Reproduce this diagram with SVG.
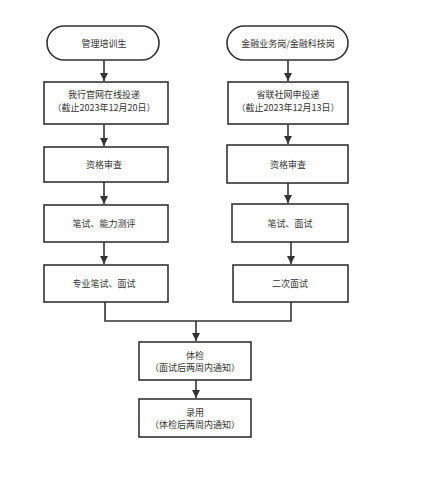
<svg xmlns="http://www.w3.org/2000/svg" width="422" height="486" viewBox="0 0 422 486">
<style>
.b{fill:#fff;stroke:#333;stroke-width:1.6}
.t{font-family:"Noto Sans CJK SC","Liberation Sans",sans-serif;font-size:9px;fill:#333;text-anchor:middle;dominant-baseline:central}
.c{fill:none;stroke:#333;stroke-width:1.6}
</style>
<defs>
<marker id="a" viewBox="0 0 10 10" refX="10" refY="5" markerWidth="8" markerHeight="8" markerUnits="userSpaceOnUse" orient="auto"><path d="M0,0L10,5L0,10z" fill="#333"/></marker>
</defs>
<rect width="422" height="486" fill="#fff"/>
<g id="connectors">
<path class="c" d="M104,60V81" marker-end="url(#a)"/>
<path class="c" d="M104,124V146" marker-end="url(#a)"/>
<path class="c" d="M104,182V204" marker-end="url(#a)"/>
<path class="c" d="M104,242V264" marker-end="url(#a)"/>
<path class="c" d="M288,60V81" marker-end="url(#a)"/>
<path class="c" d="M288,124V144" marker-end="url(#a)"/>
<path class="c" d="M288,183V203" marker-end="url(#a)"/>
<path class="c" d="M291,242V264" marker-end="url(#a)"/>
<path class="c" d="M105,302V321H291V302"/>
<path class="c" d="M196,321V341" marker-end="url(#a)"/>
<path class="c" d="M196,380V398" marker-end="url(#a)"/>
</g>
<g id="n1"><rect class="b" x="47" y="26" width="112" height="34" rx="17"/><text class="t" x="104" y="43">管理培训生</text></g>
<g id="n2"><rect class="b" x="44" y="82" width="124" height="42"/><text class="t" x="104" y="94.5">我行官网在线投递</text><text class="t" x="104" y="107.5">（截止2023年12月20日）</text></g>
<g id="n3"><rect class="b" x="44" y="147" width="124" height="35"/><text class="t" x="104" y="164.5">资格审查</text></g>
<g id="n4"><rect class="b" x="44" y="205" width="124" height="37"/><text class="t" x="104" y="223.5">笔试、能力测评</text></g>
<g id="n5"><rect class="b" x="44" y="265" width="124" height="37"/><text class="t" x="104" y="283.5">专业笔试、面试</text></g>
<g id="n6"><rect class="b" x="227" y="26" width="121" height="34" rx="17"/><text class="t" x="288" y="43">金融业务岗/金融科技岗</text></g>
<g id="n7"><rect class="b" x="228" y="82" width="120" height="42"/><text class="t" x="288" y="94.5">省联社网申投递</text><text class="t" x="288" y="107.5">（截止2023年12月13日）</text></g>
<g id="n8"><rect class="b" x="227" y="145" width="121" height="38"/><text class="t" x="288" y="164">资格审查</text></g>
<g id="n9"><rect class="b" x="232" y="204" width="116" height="38"/><text class="t" x="290" y="223">笔试、面试</text></g>
<g id="n10"><rect class="b" x="233" y="265" width="115" height="37"/><text class="t" x="290" y="283.5">二次面试</text></g>
<g id="n11"><rect class="b" x="139" y="342" width="112" height="38"/><text class="t" x="195" y="355">体检</text><text class="t" x="195" y="367">（面试后两周内通知）</text></g>
<g id="n12"><rect class="b" x="139" y="399" width="112" height="38"/><text class="t" x="195" y="412">录用</text><text class="t" x="195" y="424">（体检后两周内通知）</text></g>
</svg>
